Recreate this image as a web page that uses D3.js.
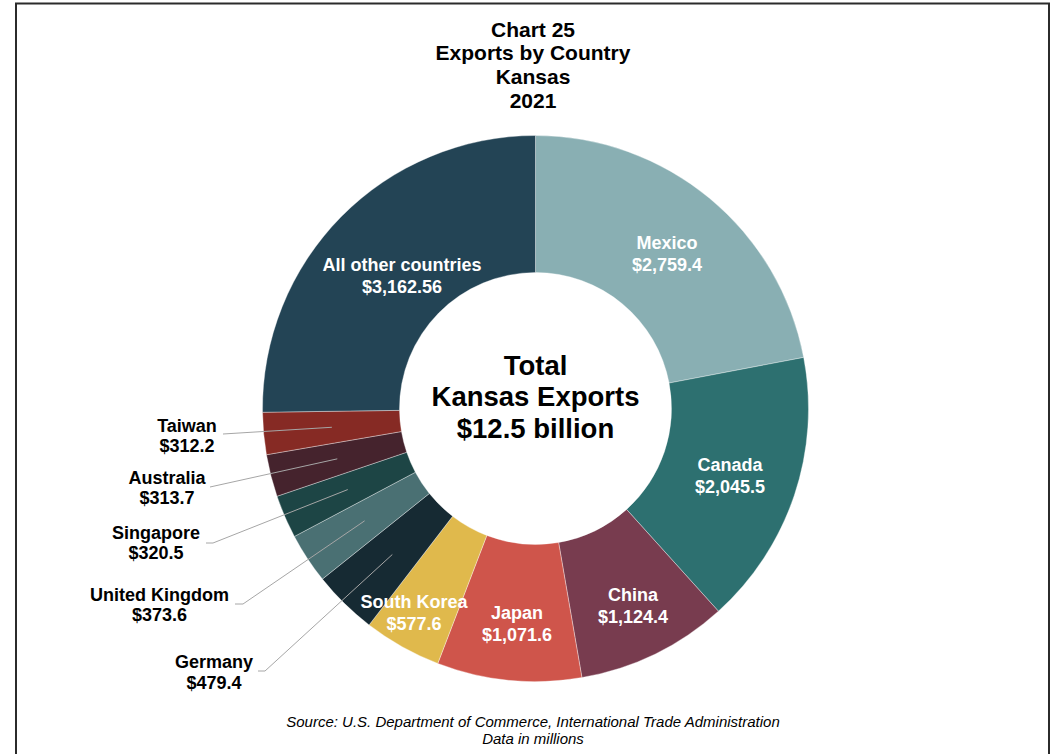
<!DOCTYPE html>
<html>
<head>
<meta charset="utf-8">
<script src="https://cdn.jsdelivr.net/npm/d3@7"></script>
<style>
  html, body { margin: 0; padding: 0; background: #fff; }
  svg { display: block; font-family: "Liberation Sans", Arial, sans-serif; }
</style>
</head>
<body>
<svg id="chart" width="1052" height="754"></svg>
<script>
// Kansas exports by destination, 2021 (millions of dollars)
const countries = ["Mexico", "Canada", "China", "Japan", "South Korea", "Germany",
  "United Kingdom", "Singapore", "Australia", "Taiwan", "All other countries"];
const values = [2759.4, 2045.5, 1124.4, 1071.6, 577.6, 479.4, 373.6, 320.5, 313.7, 312.2, 3162.56];
const valueLabels = ["$2,759.4", "$2,045.5", "$1,124.4", "$1,071.6", "$577.6", "$479.4",
  "$373.6", "$320.5", "$313.7", "$312.2", "$3,162.56"];
const colors = ["#89afb3", "#2d7070", "#783c4f", "#cf554b", "#e0b94c", "#162a33",
  "#4a7073", "#1d4545", "#45232d", "#862a24", "#234455"];
const titleLines = ["Chart 25", "Exports by Country", "Kansas", "2021"];
const centerLines = ["Total", "Kansas Exports", "$12.5 billion"];
const sourceLines = ["Source: U.S. Department of Commerce, International Trade Administration", "Data in millions"];

const svg = d3.select("#chart");
const cx = 535.5, cy = 408.5, rOuter = 273, rInner = 136;

// frame
svg.append("path")
  .attr("d", "M16,760 L16,3.5 L1049,3.5 L1049,760")
  .attr("fill", "none").attr("stroke", "#2b2b2b").attr("stroke-width", 2);

// title
svg.append("g").selectAll("text").data(titleLines).join("text")
  .attr("x", 533).attr("y", (d, i) => 36.5 + i * 23.7)
  .attr("text-anchor", "middle").attr("font-weight", "bold").attr("font-size", 21)
  .attr("fill", "#000").text(d => d);

const data = countries.map((c, i) => ({ name: c, value: values[i], label: valueLabels[i], color: colors[i] }));
const pie = d3.pie().value(d => d.value).sort(null).startAngle(0).endAngle(2 * Math.PI);
const arcs = pie(data);
const arc = d3.arc().innerRadius(rInner).outerRadius(rOuter);
const mid = d3.arc().innerRadius((rInner + rOuter) / 2).outerRadius((rInner + rOuter) / 2);

const g = svg.append("g").attr("transform", `translate(${cx},${cy})`);
g.selectAll("path").data(arcs).join("path")
  .attr("d", arc).attr("fill", d => d.data.color)
  .attr("stroke", "#ffffff").attr("stroke-opacity", 0.6).attr("stroke-width", 0.6);

// labels drawn inside the larger slices (offsets from the centre)
const inside = {
  "Mexico": [131.5, -160],
  "Canada": [194.5, 62],
  "China": [97.5, 192],
  "Japan": [-18.5, 210],
  "South Korea": [-121.5, 199],
  "All other countries": [-133.5, -138]
};
const insideG = svg.append("g");
arcs.filter(d => inside[d.data.name]).forEach(d => {
  const [dx, dy] = inside[d.data.name];
  const t = insideG.append("text").attr("text-anchor", "middle")
    .attr("font-weight", "bold").attr("font-size", 18).attr("fill", "#fff");
  t.append("tspan").attr("x", cx + dx).attr("y", cy + dy).text(d.data.name);
  t.append("tspan").attr("x", cx + dx).attr("y", cy + dy + 22).text(d.data.label);
});

// labels outside the small slices, with leader lines
const outside = {
  "Taiwan":         { tx: 187, ty: 431.5, gap: 20, line: [[223, 434]] },
  "Australia":      { tx: 167, ty: 483.5, gap: 20, line: [[210, 487]] },
  "Singapore":      { tx: 156, ty: 538.5, gap: 20, line: [[206, 543], [213, 543]] },
  "United Kingdom": { tx: 159.5, ty: 600.5, gap: 20, line: [[235, 604], [243, 604]] },
  "Germany":        { tx: 214, ty: 667.5, gap: 21.5, line: [[258, 671], [265, 671]] }
};
const outG = svg.append("g");
arcs.filter(d => outside[d.data.name]).forEach(d => {
  const o = outside[d.data.name];
  const c = mid.centroid(d);
  const pts = o.line.concat([[cx + c[0], cy + c[1]]]);
  outG.append("path").attr("d", d3.line()(pts))
    .attr("fill", "none").attr("stroke", "#a6a6a6").attr("stroke-width", 1);
  const t = outG.append("text").attr("text-anchor", "middle")
    .attr("font-weight", "bold").attr("font-size", 18).attr("fill", "#000");
  t.append("tspan").attr("x", o.tx).attr("y", o.ty).text(d.data.name);
  t.append("tspan").attr("x", o.tx).attr("y", o.ty + o.gap).text(d.data.label);
});

// center total
svg.append("g").selectAll("text").data(centerLines).join("text")
  .attr("x", cx).attr("y", (d, i) => 374.5 + i * 31.8)
  .attr("text-anchor", "middle").attr("font-weight", "bold").attr("font-size", 27.5)
  .attr("fill", "#000").text(d => d);

// source note
svg.append("g").selectAll("text").data(sourceLines).join("text")
  .attr("x", 533).attr("y", (d, i) => 726.5 + i * 17)
  .attr("text-anchor", "middle").attr("font-style", "italic").attr("font-size", 15)
  .attr("fill", "#000").text(d => d);
</script>
</body>
</html>
